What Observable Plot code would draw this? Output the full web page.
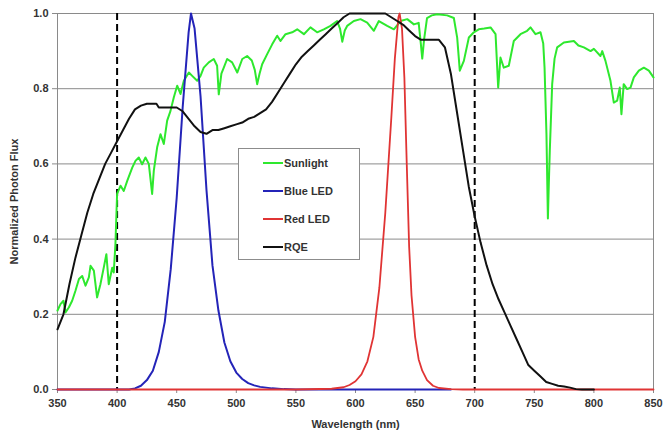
<!DOCTYPE html>
<html><head><meta charset="utf-8">
<script src="https://cdn.jsdelivr.net/npm/d3@7"></script>
<script src="https://cdn.jsdelivr.net/npm/@observablehq/plot@0.6"></script>
<style>
body{margin:0;background:#fff;font-family:"Liberation Sans",Arial,sans-serif;}
#wrap{position:relative;width:665px;height:436px;}
#legend{position:absolute;left:238px;top:148px;width:120px;height:110px;background:#fff;border:1px solid #8c8c8c;}
.item{position:absolute;left:24px;height:14px;display:flex;align-items:center;font-weight:bold;font-size:11px;color:#333;white-space:nowrap}
.sw{display:inline-block;width:20px;height:2px;margin-right:1px}
</style></head>
<body>
<div id="wrap"><div id="chart"></div><div id="legend"></div></div>
<script>
const xTicks = [350,400,450,500,550,600,650,700,750,800,850];
const yTicks = [0,0.2,0.4,0.6,0.8,1.0];
const cutoffs = [400,700];
const seriesNames = ["Sunlight","Blue LED","Red LED","RQE"];
const seriesColors = ["#2ee82e","#2424b8","#e03434","#111111"];

const sunWl = [350,352.5,355,356.7,359.5,362.3,365,368,370.7,373.5,376.3,377.7,380.5,383.2,386,388.8,391,393,395.9,397.2,398.6,
400,402.9,405.6,408.5,412.7,415.4,418.2,421,423.8,426.6,429.4,430.8,433.6,436.4,439.2,442,444.8,447.6,450.4,453.2,456,460.2,463,467.2,470,
472.7,476.9,481.1,483.9,485.3,487.5,489.5,492.3,496.5,500.8,505,509.1,513,515.5,517.5,519.5,521.7,525.9,530.1,534.3,537.1,541.3,546.9,551.1,
556.7,562.2,567.8,573.4,579,584.6,587,588.9,591,593,598.6,604.2,609.8,615.4,619.6,626.6,632.2,637.8,643.4,649,653,654.8,656,657.5,660,664,
668.5,676.9,682.5,685.3,687.5,690.9,695.1,699.3,703.4,708,713.3,717.5,719.7,721.6,724.4,728.6,732.8,738.4,744,746.8,751,755.2,757.5,758.6,
760.2,761.4,762.2,763,765,767,769.2,774.8,779,783.2,787,791.6,797.2,800,805.5,807,809.7,813.9,816.7,819.5,821.7,823.1,825,827.9,830.7,833.5,
837.7,841.9,846.1,850];
const sunVal = [0.21,0.227,0.236,0.205,0.218,0.236,0.262,0.294,0.302,0.276,0.298,0.329,0.316,0.245,0.28,0.324,0.36,0.28,0.324,0.311,0.387,
0.52,0.542,0.528,0.555,0.59,0.608,0.617,0.599,0.617,0.6,0.52,0.582,0.644,0.679,0.653,0.715,0.741,0.777,0.808,0.786,0.821,0.843,0.834,0.821,0.834,
0.856,0.87,0.879,0.861,0.785,0.84,0.856,0.879,0.87,0.843,0.879,0.887,0.875,0.85,0.812,0.84,0.865,0.892,0.918,0.941,0.927,0.945,0.95,0.958,
0.945,0.963,0.95,0.958,0.967,0.98,0.96,0.925,0.955,0.967,0.98,0.985,0.976,0.954,0.98,0.967,0.958,0.98,0.985,0.971,0.975,0.92,0.88,0.93,0.988,0.995,
0.998,0.995,0.988,0.936,0.848,0.874,0.936,0.95,0.958,0.96,0.963,0.945,0.803,0.883,0.856,0.861,0.927,0.945,0.954,0.963,0.945,0.95,0.92,0.856,
0.679,0.455,0.55,0.635,0.812,0.88,0.91,0.923,0.925,0.927,0.915,0.91,0.9,0.906,0.887,0.9,0.874,0.821,0.763,0.768,0.803,0.732,0.812,0.799,0.803,0.83,
0.848,0.856,0.848,0.83];

const blueWl = [350,380,410,415,420,425,430,435,440,445,450,455,460,462,465,470,475,480,485,490,495,500,505,510,515,520,530,540,550,600,650,680];
const blueVal = [0,0,0,0.003,0.01,0.025,0.05,0.1,0.18,0.32,0.51,0.75,0.95,1.0,0.96,0.78,0.53,0.33,0.21,0.125,0.075,0.045,0.028,0.017,0.011,0.007,0.003,0.001,0,0,0,0];

const redWl = [350,400,450,500,550,580,590,595,600,605,610,615,620,625,630,633,636,637,639,641,643,645,647,650,653,656,660,665,670,680,690,750,800,850];
const redVal = [0,0,0,0,0,0.002,0.006,0.012,0.022,0.04,0.075,0.14,0.27,0.47,0.72,0.88,0.99,1.0,0.96,0.83,0.6,0.38,0.25,0.14,0.08,0.05,0.025,0.01,0.004,0.001,0,0,0,0];

const rqeWl = [350,355,360,365,370,375,380,385,390,395,400,405,410,415,420,425,430,433,435,440,445,450,455,460,465,470,475,480,485,490,495,500,
505,510,515,520,525,530,535,540,545,550,555,560,565,570,575,580,585,590,595,600,610,620,625,630,635,640,645,650,655,660,665,670,675,680,685,
690,695,700,705,710,715,720,725,730,735,740,745,750,755,760,765,770,775,780,785,790,800];
const rqeVal = [0.16,0.2,0.28,0.35,0.41,0.47,0.52,0.56,0.6,0.63,0.66,0.69,0.72,0.745,0.755,0.76,0.76,0.76,0.75,0.75,0.75,0.75,0.74,0.72,0.7,0.685,0.68,0.69,0.69,0.695,0.7,0.705,
0.71,0.72,0.725,0.735,0.745,0.765,0.79,0.815,0.84,0.865,0.885,0.9,0.915,0.93,0.945,0.96,0.975,0.99,1.0,1.0,1.0,1.0,1.0,0.99,0.98,0.97,0.955,0.94,0.93,0.93,0.93,0.93,0.91,0.84,0.74,
0.64,0.54,0.46,0.39,0.33,0.28,0.24,0.205,0.17,0.135,0.1,0.065,0.05,0.035,0.02,0.015,0.01,0.008,0.005,0.001,0,0];

const toRows = (w, v) => w.map((x, i) => ({wl: x, v: v[i]}));
const sun = toRows(sunWl, sunVal), blue = toRows(blueWl, blueVal), red = toRows(redWl, redVal), rqe = toRows(rqeWl, rqeVal);

const chart = Plot.plot({
  width: 665, height: 436,
  marginLeft: 57, marginRight: 12, marginTop: 13, marginBottom: 47,
  style: {fontFamily: "Liberation Sans, Arial, sans-serif", fontSize: "11px", fontWeight: "bold", color: "#333", background: "#fff"},
  x: {domain: [350, 850]},
  y: {domain: [0, 1]},
  marks: [
    Plot.ruleY(yTicks.filter(d => d > 0), {stroke: "#8a8a8a", strokeWidth: 1}),
    Plot.ruleX([350, 850], {stroke: "#8a8a8a"}),
    Plot.ruleY([0], {stroke: "#8a8a8a"}),
    Plot.axisX({ticks: xTicks, tickSize: 4, tickPadding: 6, stroke: "#8a8a8a", fill: "#333", label: "Wavelength (nm)", labelAnchor: "center", labelArrow: "none", labelOffset: 38}),
    Plot.axisY({ticks: yTicks, tickFormat: d3.format(".1f"), tickSize: 5, tickPadding: 4, stroke: "#8a8a8a", fill: "#333", label: "Normalized Photon Flux", labelAnchor: "center", labelArrow: "none", labelOffset: 47}),
    Plot.ruleX(cutoffs, {stroke: "#000", strokeWidth: 2, strokeDasharray: "7,4"}),
    Plot.line(sun, {x: "wl", y: "v", stroke: seriesColors[0], strokeWidth: 2}),
    Plot.line(blue, {x: "wl", y: "v", stroke: seriesColors[1], strokeWidth: 2}),
    Plot.line(red, {x: "wl", y: "v", stroke: seriesColors[2], strokeWidth: 1.8}),
    Plot.line(rqe, {x: "wl", y: "v", stroke: seriesColors[3], strokeWidth: 2})
  ]
});
document.getElementById("chart").appendChild(chart);

const leg = document.getElementById("legend");
seriesNames.forEach((n, i) => {
  const d = document.createElement("div");
  d.className = "item";
  d.style.top = (7 + i * 28) + "px";
  d.innerHTML = `<span class="sw" style="background:${seriesColors[i]}"></span><span>${n}</span>`;
  leg.appendChild(d);
});
</script>
</body></html>
